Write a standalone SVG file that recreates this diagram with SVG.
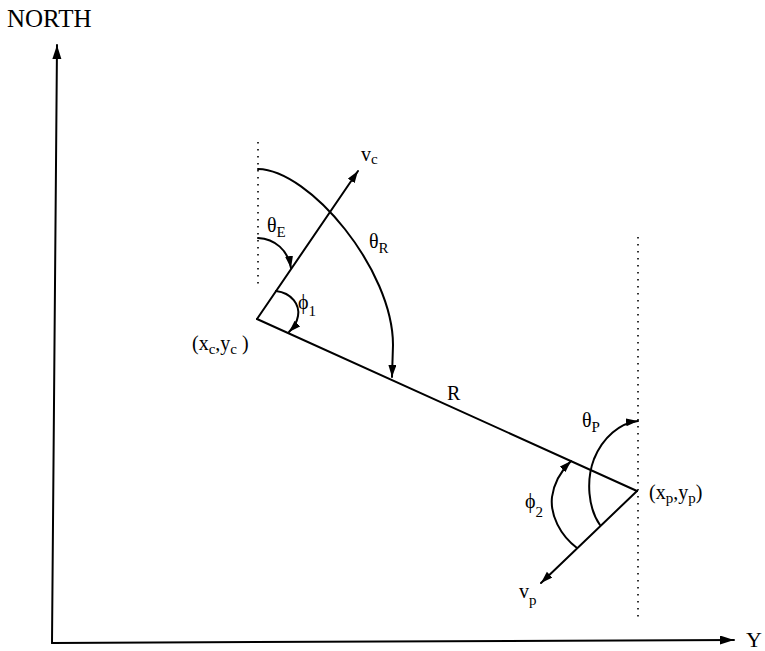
<svg xmlns="http://www.w3.org/2000/svg" width="765" height="651" viewBox="0 0 765 651">
<defs>
<style>
.ln{fill:none;stroke:#000;stroke-width:2;stroke-linecap:round}
.dot{fill:none;stroke:#000;stroke-width:1.6;stroke-dasharray:1.5 5.5}
.t{font-family:"Liberation Serif","Times New Roman",serif;fill:#000}
.big{font-size:25px}
.m{font-size:20px}
.s{font-size:15px}
</style>
<marker id="ah" markerUnits="userSpaceOnUse" markerWidth="14" markerHeight="10" refX="12" refY="4" orient="auto">
<path d="M0,0 L12,4 L0,8 z" fill="#000"/>
</marker>
<marker id="ax" markerUnits="userSpaceOnUse" markerWidth="16" markerHeight="10" refX="14" refY="4.5" orient="auto">
<path d="M0,0 L14,4.5 L0,9 z" fill="#000"/>
</marker>
</defs>
<rect width="765" height="651" fill="#fff"/>

<g id="axes">
<path class="ln" d="M52,643 L57,45" marker-end="url(#ax)"/>
<path class="ln" d="M52,643 L734,640" marker-end="url(#ax)"/>
<text class="t big" x="7" y="27">NORTH</text>
<text class="t" style="font-size:22px" x="746" y="647">Y</text>
</g>

<g id="guides">
<path class="dot" d="M258,142 L258,284"/>
<path class="dot" d="M638,237 L638,620"/>
</g>

<g id="connectors">
<path id="line-R" class="ln" d="M257,319 L637,491"/>
<path id="vc" class="ln" d="M257,319 L358,171" marker-end="url(#ah)"/>
<path id="vp" class="ln" d="M637,491 L541,583" marker-end="url(#ah)"/>
<path id="arc-thetaR" class="ln" d="M258,169 C310,170 393,270 393,345 L392,377" marker-end="url(#ah)"/>
<path id="arc-thetaE" class="ln" d="M258,238 C275,239 288,250 291,268" marker-end="url(#ah)"/>
<path id="arc-phi1" class="ln" d="M276,291 C292,293 300,305 298,316 C297,322 293,328 289,332" marker-end="url(#ah)"/>
<path id="arc-thetaP" class="ln" d="M600,525 C588,508 586,480 594,459 C603,437 620,423 638,421" marker-end="url(#ah)"/>
<path id="arc-phi2" class="ln" d="M577,548 C560,535 550,515 552,497 C554,482 562,470 571,461" marker-end="url(#ah)"/>
</g>

<g id="node-C">
<text class="t m" x="192" y="350">(x<tspan class="s" dy="4">c</tspan><tspan dy="-4">,y</tspan><tspan class="s" dy="4">c</tspan><tspan dy="-4"> )</tspan></text>
</g>
<g id="node-P">
<text class="t m" x="649" y="499">(x<tspan class="s" dy="4">p</tspan><tspan dy="-4">,y</tspan><tspan class="s" dy="4">p</tspan><tspan dy="-4">)</tspan></text>
</g>

<g id="labels">
<text class="t m" x="361" y="161">v<tspan class="s" dy="3">c</tspan></text>
<text class="t m" x="267" y="232">θ<tspan class="s" dy="5">E</tspan></text>
<text class="t m" x="369" y="248">θ<tspan class="s" dy="5">R</tspan></text>
<text class="t m" x="298" y="309">ϕ<tspan class="s" dy="7">1</tspan></text>
<text class="t m" x="447" y="400">R</text>
<text class="t m" x="582" y="427">θ<tspan class="s" dy="5">P</tspan></text>
<text class="t m" x="525" y="508">ϕ<tspan class="s" dy="9">2</tspan></text>
<text class="t m" x="519" y="598">v<tspan class="s" dy="7">p</tspan></text>
</g>
</svg>
